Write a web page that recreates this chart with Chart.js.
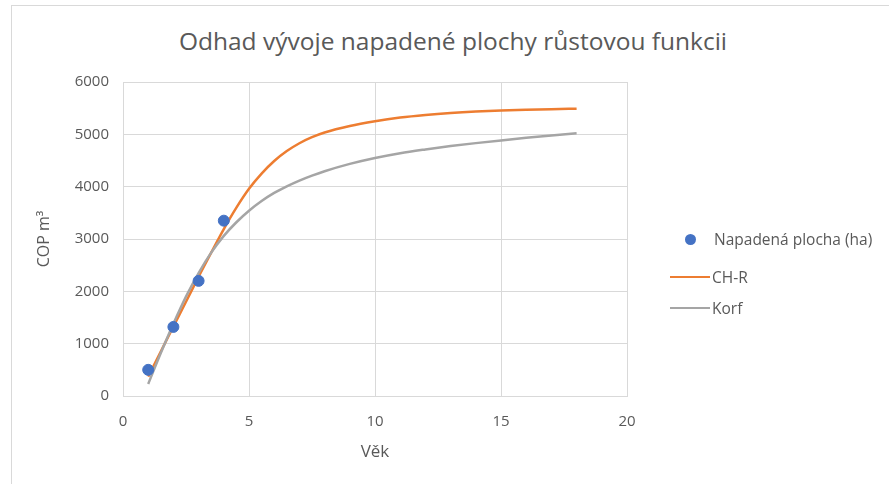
<!DOCTYPE html>
<html>
<head>
<meta charset="utf-8">
<script src="https://cdn.jsdelivr.net/npm/chart.js@4/dist/chart.umd.min.js"></script>
<style>
  body { margin: 0; background: #fff; font-family: "Open Sans", sans-serif; }
  #wrap { position: relative; width: 889px; height: 484px; overflow: hidden; }
  #frame { position: absolute; left: 11px; top: 5px; width: 900px; height: 500px; border-left: 1px solid #d9d9d9; border-top: 1px solid #d9d9d9; }
  #title { position: absolute; left: 0; width: 906px; top: 24px; text-align: center; font-size: 24.5px; color: #595959; }
  #legend { position: absolute; left: 0; top: 0; font-size: 15.5px; color: #595959; }
  .item { position: absolute; left: 668px; height: 24px; display: flex; align-items: center; white-space: nowrap; }
  .sym { width: 44px; display: flex; justify-content: center; align-items: center; }
  canvas { position: absolute; left: 0; top: 0; }
</style>
</head>
<body>
<div id="wrap">
  <div id="frame"></div>
  <div id="title">Odhad vývoje napadené plochy růstovou funkcii</div>
  <canvas id="chart" width="889" height="484"></canvas>
  <div id="legend"></div>
</div>
<script>
// observed values
const ageObs = [1, 2, 3, 4];
const areaObs = [500, 1320, 2200, 3350];

// fitted curves
const ageFit = [1, 1.5, 2, 2.5, 3, 3.5, 4, 4.5, 5, 5.5, 6, 6.5, 7, 7.5, 8, 9, 10, 11, 12, 13, 14, 15, 16, 17, 18];
const chrValues = [370, 850, 1330, 1800, 2280, 2740, 3190, 3600, 3960, 4250, 4490, 4680, 4830, 4945, 5035, 5160, 5250, 5320, 5370, 5408, 5436, 5456, 5470, 5481, 5490];
const korfValues = [230, 820, 1380, 1900, 2350, 2740, 3060, 3320, 3540, 3725, 3880, 4005, 4115, 4210, 4295, 4435, 4548, 4640, 4712, 4776, 4832, 4884, 4933, 4978, 5020];

const xTicks = [0, 5, 10, 15, 20];
const yTicks = [0, 1000, 2000, 3000, 4000, 5000, 6000];

const toPoints = (xs, ys) => xs.map((x, i) => ({ x, y: ys[i] }));

const gridColor = "#d9d9d9";
const textColor = "#595959";
const fontFamily = "'Open Sans', sans-serif";

const datasets = [
  {
    label: "Napadená plocha (ha)",
    data: toPoints(ageObs, areaObs),
    showLine: false,
    pointRadius: 5.5,
    pointBackgroundColor: "#4472C4",
    pointBorderColor: "#4472C4",
    order: 0,
  },
  {
    label: "CH-R",
    data: toPoints(ageFit, chrValues),
    showLine: true,
    borderColor: "#ED7D31",
    borderWidth: 2.5,
    pointRadius: 0,
    cubicInterpolationMode: "monotone",
    order: 2,
  },
  {
    label: "Korf",
    data: toPoints(ageFit, korfValues),
    showLine: true,
    borderColor: "#A5A5A5",
    borderWidth: 2.5,
    pointRadius: 0,
    cubicInterpolationMode: "monotone",
    order: 1,
  },
];

const chart = new Chart(document.getElementById("chart").getContext("2d"), {
  type: "scatter",
  data: { datasets },
  options: {
    responsive: false,
    animation: false,
    layout: { padding: { left: 33, right: 262, top: 82, bottom: 18 } },
    plugins: {
      legend: { display: false },
      tooltip: { enabled: false },
    },
    scales: {
      x: {
        type: "linear",
        min: 0,
        max: 20,
        afterBuildTicks: (s) => { s.ticks = xTicks.map((v) => ({ value: v })); },
        afterFit: (s) => { s.height = 70; },
        grid: { color: gridColor, lineWidth: 1, drawTicks: false },
        border: { color: gridColor, width: 1 },
        ticks: { color: textColor, font: { family: fontFamily, size: 15 }, padding: 17, callback: (v) => String(v) },
        title: { display: true, text: "Věk", color: textColor, font: { family: fontFamily, size: 17 }, padding: { top: 5 } },
      },
      y: {
        min: 0,
        max: 6000,
        afterBuildTicks: (s) => { s.ticks = yTicks.map((v) => ({ value: v })); },
        afterFit: (s) => { s.width = 90; },
        grid: { color: gridColor, lineWidth: 1, drawTicks: false },
        border: { color: gridColor, width: 1 },
        ticks: { color: textColor, font: { family: fontFamily, size: 15 }, padding: 14, callback: (v) => String(v) },
        title: { display: true, text: "COP m³", color: textColor, font: { family: fontFamily, size: 16 }, padding: { top: 2, bottom: 0 } },
      },
    },
  },
});

// legend
const legend = document.getElementById("legend");
const legendTops = [227, 265, 296];
chart.data.datasets.forEach((ds, i) => {
  const item = document.createElement("div");
  item.className = "item";
  item.style.top = legendTops[i] + "px";
  const sym = ds.showLine
    ? `<span style="display:block;width:40px;height:2.5px;background:${ds.borderColor}"></span>`
    : `<span style="display:block;width:11px;height:11px;border-radius:50%;background:${ds.pointBackgroundColor}"></span>`;
  item.innerHTML = `<div class="sym">${sym}</div><span style="margin-left:${ds.showLine ? 0 : 2}px">${ds.label}</span>`;
  legend.appendChild(item);
});
</script>
</body>
</html>
